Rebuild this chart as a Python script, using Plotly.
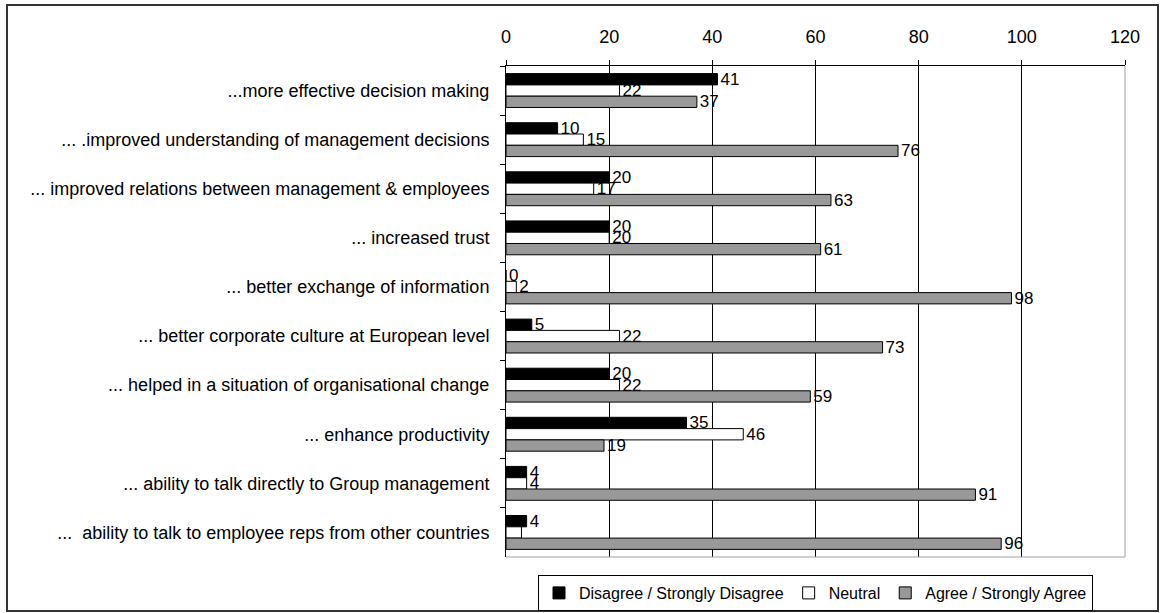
import plotly.graph_objects as go

# survey statements, top to bottom
categories = [
    "...more effective decision making",
    "... .improved understanding of management decisions",
    "... improved relations between management & employees",
    "... increased trust",
    "... better exchange of information",
    "... better corporate culture at European level",
    "... helped in a situation of organisational change",
    "... enhance productivity",
    "... ability to talk directly to Group management",
    "...\u00a0 ability to talk to employee reps from other countries",
]
disagree = [41, 10, 20, 20, 0, 5, 20, 35, 4, 4]
neutral = [22, 15, 17, 20, 2, 22, 22, 46, 4, 3]
agree = [37, 76, 63, 61, 98, 73, 59, 19, 91, 96]
x_ticks = [0, 20, 40, 60, 80, 100, 120]

FONT = "Liberation Sans, Arial, sans-serif"

# plot area in pixels (used to place the outer frame)
L, R, T, B = 506, 1125, 66, 557
W, H = 1165, 613


def px_x(p):
    return (p - L) / (R - L)


def px_y(p):
    return (B - p) / (B - T)


series = [
    ("Disagree / Strongly Disagree", disagree, "black"),
    ("Neutral", neutral, "white"),
    ("Agree / Strongly Agree", agree, "#999999"),
]

fig = go.Figure()
for name, vals, col in series:
    labels = [str(v) for v in vals]
    if name == "Neutral":
        labels[-1] = ""  # label not shown in the original
    fig.add_trace(go.Bar(
        name=name,
        y=categories,
        x=vals,
        orientation="h",
        marker=dict(color=col, line=dict(color="black", width=1)),
        text=labels,
        textposition="outside",
        constraintext="none",
        cliponaxis=False,
        textfont=dict(family=FONT, size=17, color="black"),
    ))

fig.update_layout(
    width=W,
    height=H,
    barmode="group",
    bargap=0.31,
    bargroupgap=0,
    plot_bgcolor="white",
    paper_bgcolor="white",
    margin=dict(l=L, r=W - R, t=T, b=H - B, autoexpand=False),
    font=dict(family=FONT, size=17, color="black"),
    legend=dict(
        orientation="h",
        x=0.5,
        xanchor="center",
        y=px_y(575),
        yanchor="top",
        bordercolor="black",
        borderwidth=1,
        font=dict(family=FONT, size=16),
        traceorder="normal",
        itemwidth=30,
        tracegroupgap=0,
    ),
    showlegend=True,
)

fig.update_xaxes(
    side="top",
    range=[0, 120],
    tickvals=x_ticks,
    showgrid=True,
    gridcolor="black",
    gridwidth=1,
    showline=True,
    linecolor="black",
    linewidth=1,
    ticks="outside",
    ticklen=5,
    tickcolor="black",
    ticklabelstandoff=10,
    tickfont=dict(family=FONT, size=18),
    zeroline=False,
)
fig.update_yaxes(
    autorange="reversed",
    showline=True,
    linecolor="black",
    linewidth=1,
    ticks="outside",
    tickson="boundaries",
    ticklen=5,
    tickcolor="black",
    ticklabelstandoff=12,
    tickfont=dict(family=FONT, size=18),
    showgrid=False,
)

# grey plot-area border on right and bottom
fig.add_shape(type="line", xref="x domain", yref="y domain", x0=1, x1=1, y0=0, y1=1,
              line=dict(color="#a0a0a0", width=1))
fig.add_shape(type="line", xref="x domain", yref="y domain", x0=0, x1=1, y0=0, y1=0,
              line=dict(color="#a0a0a0", width=1))
# outer chart frame
fig.add_shape(type="rect", xref="paper", yref="paper",
              x0=px_x(7), x1=px_x(1158), y0=px_y(611), y1=px_y(5),
              line=dict(color="#333333", width=2), layer="below")

fig.write_html("out.html", config={"displayModeBar": False},
               post_script="document.body.style.margin='0px';")
